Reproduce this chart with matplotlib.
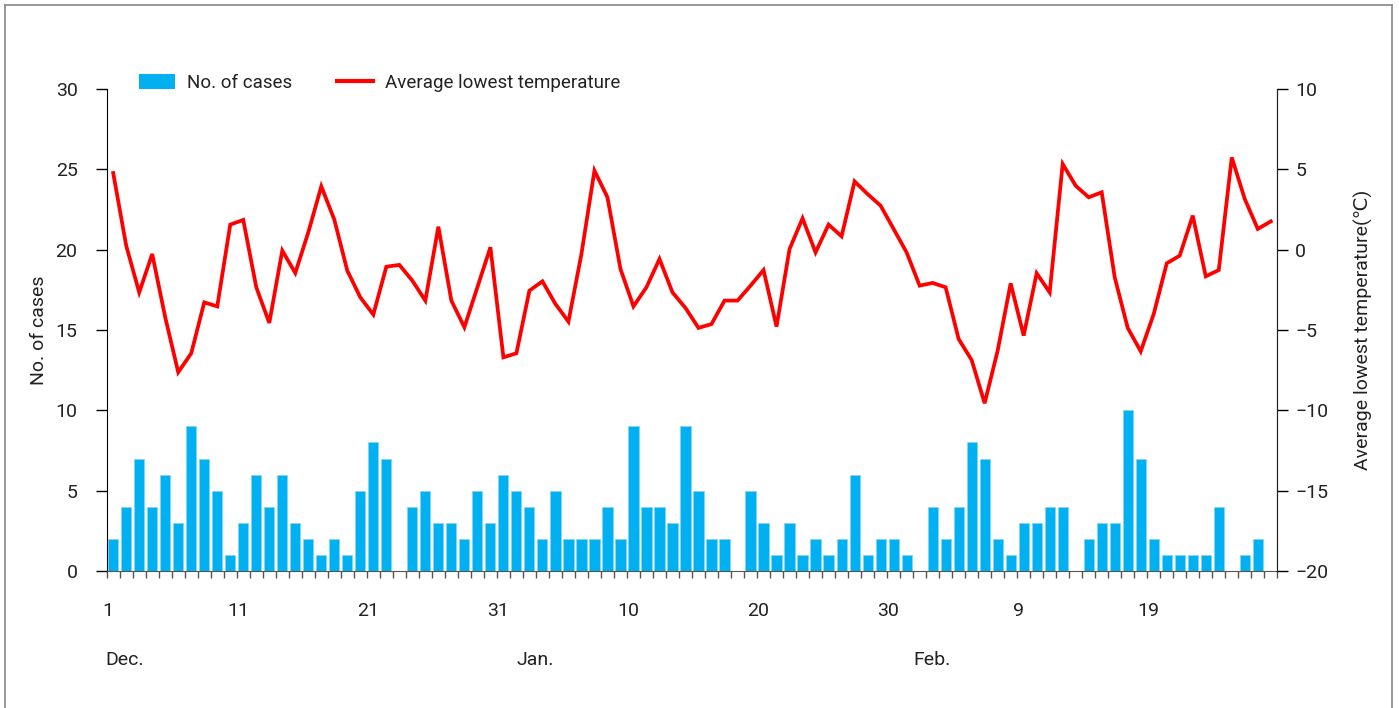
import matplotlib
matplotlib.use("Agg")
import matplotlib.pyplot as plt
from matplotlib.patches import Patch
from matplotlib.lines import Line2D
import numpy as np

plt.rcParams['font.family'] = ['Roboto', 'DejaVu Sans']

# Daily data, Dec 1 .. Feb 28 (90 days)
cases = [2, 4, 7, 4, 6, 3, 9, 7, 5, 1, 3, 6, 4, 6, 3, 2, 1, 2, 1, 5, 8, 7,   # Dec 1-22
         0, 4, 5, 3, 3, 2, 5, 3, 6,                                          # Dec 23-31
         5, 4, 2, 5, 2, 2, 2, 4, 2, 9, 4, 4, 3, 9, 5, 2, 2, 0, 5, 3, 1, 3,    # Jan 1-22
         1, 2, 1, 2, 6, 1, 2, 2, 1,                                          # Jan 23-31
         0, 4, 2, 4, 8, 7, 2, 1, 3, 3, 4, 4, 0, 2, 3, 3, 10, 7, 2, 1, 1, 1,   # Feb 1-22
         1, 4, 0, 1, 2, 0]                                                   # Feb 23-28

temperature = [4.77, 0.25, -2.66, -0.27, -4.21, -7.63, -6.45, -3.28, -3.53, 1.56,
               1.85, -2.34, -4.56, -0.06, -1.45, 1.08, 3.94, 1.87, -1.31, -2.97,
               -4.04, -1.06, -0.95, -1.93, -3.17, 1.43, -3.17, -4.83, -2.34, 0.15,
               -6.70, -6.45, -2.55, -1.97, -3.38, -4.48, -0.27, 4.92, 3.26, -1.20,
               -3.53, -2.34, -0.58, -2.66, -3.63, -4.87, -4.63, -3.17, -3.17, -2.24,
               -1.27, -4.79, 0.04, 1.95, -0.17, 1.56, 0.83, 4.25, 3.46, 2.74,
               1.29, -0.17, -2.24, -2.07, -2.34, -5.56, -6.87, -9.56, -6.29, -2.10,
               -5.35, -1.47, -2.66, 5.33, 3.98, 3.26, 3.57, -1.72, -4.87, -6.33,
               -4.00, -0.85, -0.37, 2.12, -1.66, -1.27, 5.74, 3.15, 1.29, 1.76]

day_label_idx = [0, 10, 20, 30, 40, 50, 60, 70, 80]
day_labels = ['1', '11', '21', '31', '10', '20', '30', '9', '19']
month_labels = ['Dec.', 'Jan.', 'Feb.']
month_pos = [-0.6, 31.0, 61.5]

BLUE = '#00B0F0'
RED = '#FF0000'
TXT = '#222222'

fig = plt.figure(figsize=(13.99, 7.08), dpi=100)
ax = fig.add_axes([106.7/1399, 1-571/708, (1277.3-106.7)/1399, (571-89)/708])
ax2 = ax.twinx()

x = np.arange(len(cases))
ax.bar(x, cases, width=0.78, color=BLUE, edgecolor='#7FD6F5', linewidth=0.6, zorder=2)
ax2.plot(x, temperature, color=RED, lw=2.7, zorder=3, solid_joinstyle='miter')

ax.set_xlim(-0.5, len(cases) - 0.5)
ax.set_ylim(0, 30)
ax.set_yticks([0, 5, 10, 15, 20, 25, 30])
ax2.set_ylim(-20, 10)
ax2.set_yticks([-20, -15, -10, -5, 0, 5, 10])
ax2.set_yticklabels(['\u221220', '\u221215', '\u221210', '\u22125', '0', '5', '10'])

# x ticks at day boundaries, labels at selected days
ax.set_xticks(np.arange(-0.5, len(cases), 1.0))
ax.set_xticklabels([])
ax.tick_params(axis='x', which='major', length=5, width=1, color='#555555', direction='out')
ax.set_xticks([i - 0.4 for i in day_label_idx], minor=True)
ax.set_xticklabels(day_labels, minor=True)
ax.tick_params(axis='x', which='minor', length=0, pad=22, labelsize=14, labelcolor=TXT)

for a in (ax, ax2):
    a.spines['top'].set_visible(False)
ax.spines['left'].set_color('black')
ax2.spines['right'].set_color(TXT)
ax.spines['bottom'].set_color('#555555')
ax2.spines['left'].set_visible(False)
ax2.spines['bottom'].set_visible(False)

ax.tick_params(axis='y', length=8, width=1, labelsize=14, pad=13, labelcolor=TXT)
ax2.tick_params(axis='y', length=8, width=1, labelsize=14, pad=5, labelcolor=TXT)

ax.set_ylabel('No. of cases', fontsize=14, color=TXT)
ax2.set_ylabel('Average lowest temperature(\u2103)', fontsize=14, color=TXT)
ax.yaxis.set_label_coords(-0.0505, 0.5)
ax2.yaxis.set_label_coords(1.0655, 0.5)

for lab, p in zip(month_labels, month_pos):
    ax.text(p, -0.185, lab, transform=ax.get_xaxis_transform(), ha='left', va='center',
            fontsize=14, color=TXT)

handles = [Patch(facecolor=BLUE, edgecolor='none', label='No. of cases'),
           Line2D([0], [0], color=RED, lw=3, label='Average lowest temperature')]
fig.legend(handles=handles, loc='center left', bbox_to_anchor=(122/1399, 1-83/708),
           ncol=2, frameon=False, fontsize=13.5, handlelength=1.95, handleheight=0.8,
           handletextpad=0.6, columnspacing=2.4, labelcolor=TXT)

# figure border
fig.add_artist(Line2D([5/1399, 5/1399], [0, 1-5/708], color='#888888', lw=1.2))
fig.add_artist(Line2D([5/1399, 1392/1399], [1-5/708, 1-5/708], color='#888888', lw=1.2))
fig.add_artist(Line2D([1392/1399, 1392/1399], [0, 1-5/708], color='#888888', lw=1.2))

fig.savefig('out.png', dpi=100)
